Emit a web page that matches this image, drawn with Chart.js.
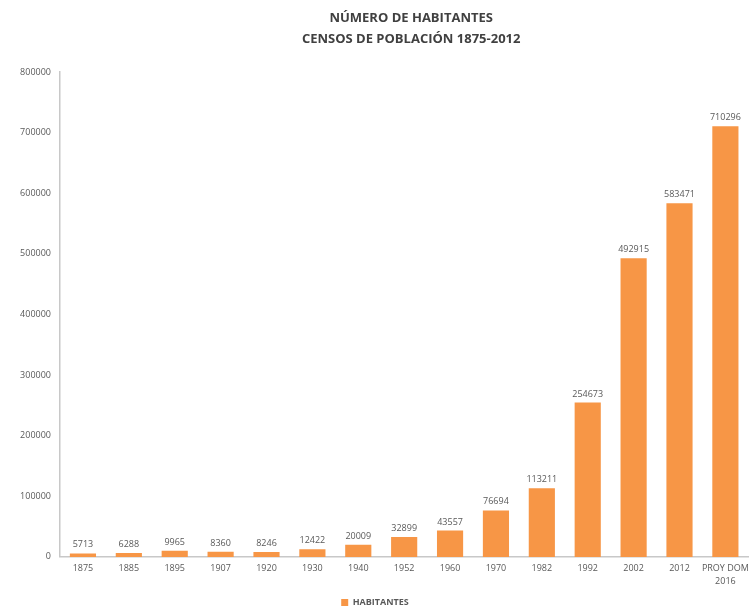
<!DOCTYPE html>
<html lang="es">
<head>
    <meta charset="UTF-8">
    <title>Número de habitantes</title>
    <script src="https://cdn.jsdelivr.net/npm/chart.js"></script>
    <style>
        body {
            margin: 0;
            padding: 0;
            background: #ffffff;
        }
        #wrap {
            width: 754px;
            height: 608px;
        }
    </style>
</head>
<body>

<div id="wrap">
    <canvas id="popChart"></canvas>
</div>

<script>
    const years = ['1875', '1885', '1895', '1907', '1920', '1930', '1940', '1952', '1960', '1970', '1982', '1992', '2002', '2012', ['PROY DOM', '2016']];
    const habitantes = [5713, 6288, 9965, 8360, 8246, 12422, 20009, 32899, 43557, 76694, 113211, 254673, 492915, 583471, 710296];
    const titleLines = ['NÚMERO DE HABITANTES', 'CENSOS DE POBLACIÓN 1875-2012'];

    const textGray = '#595959';
    const barOrange = '#F79646';

    // value above each bar
    const barLabels = {
        id: 'barLabels',
        afterDatasetsDraw(chart) {
            const ctx = chart.ctx;
            const meta = chart.getDatasetMeta(0);
            ctx.save();
            ctx.font = '9px "Open Sans", sans-serif';
            ctx.fillStyle = textGray;
            ctx.textAlign = 'center';
            ctx.textBaseline = 'bottom';
            meta.data.forEach((bar, i) => {
                ctx.fillText(habitantes[i], bar.x, bar.y - 4);
            });
            ctx.restore();
        }
    };

    // two-line title centred over the plot area
    const topTitle = {
        id: 'topTitle',
        afterDraw(chart) {
            const ctx = chart.ctx;
            const cx = (chart.chartArea.left + chart.chartArea.right) / 2 + 7;
            ctx.save();
            ctx.font = 'bold 13px "Open Sans", sans-serif';
            ctx.fillStyle = '#404040';
            ctx.textAlign = 'center';
            ctx.textBaseline = 'middle';
            ctx.fillText(titleLines[0], cx, 18);
            ctx.fillText(titleLines[1], cx, 39);
            ctx.restore();
        }
    };

    const ctx = document.getElementById('popChart').getContext('2d');
    const popChart = new Chart(ctx, {
        type: 'bar',
        data: {
            labels: years,
            datasets: [{
                label: 'HABITANTES',
                data: habitantes,
                backgroundColor: barOrange,
                borderWidth: 0,
                categoryPercentage: 1,
                barPercentage: 0.57
            }]
        },
        options: {
            responsive: true,
            maintainAspectRatio: false,
            animation: false,
            layout: {
                padding: { top: 72, right: 4, left: 0, bottom: -9 }
            },
            scales: {
                y: {
                    min: 0,
                    max: 800000,
                    ticks: {
                        stepSize: 100000,
                        color: textGray,
                        padding: 9,
                        callback: (v) => String(v),
                        font: { size: 9, family: '"Open Sans", sans-serif' }
                    },
                    grid: { display: false, drawTicks: false },
                    border: { display: true, color: '#c8c8c8', width: 1.5 },
                    afterFit(scale) { scale.width = 60; }
                },
                x: {
                    ticks: {
                        color: textGray,
                        padding: 5,
                        maxRotation: 0,
                        autoSkip: false,
                        font: { size: 9, lineHeight: 1.45, family: '"Open Sans", sans-serif' }
                    },
                    grid: { display: false, drawTicks: false },
                    border: { display: true, color: '#c8c8c8', width: 1.5 },
                    afterFit(scale) { scale.height += 2; }
                }
            },
            plugins: {
                legend: {
                    position: 'bottom',
                    labels: {
                        boxWidth: 7,
                        boxHeight: 7,
                        color: textGray,
                        padding: 3,
                        font: { size: 9, weight: 'bold', family: '"Open Sans", sans-serif' }
                    }
                },
                tooltip: { enabled: false }
            }
        },
        plugins: [barLabels, topTitle]
    });
</script>

</body>
</html>
